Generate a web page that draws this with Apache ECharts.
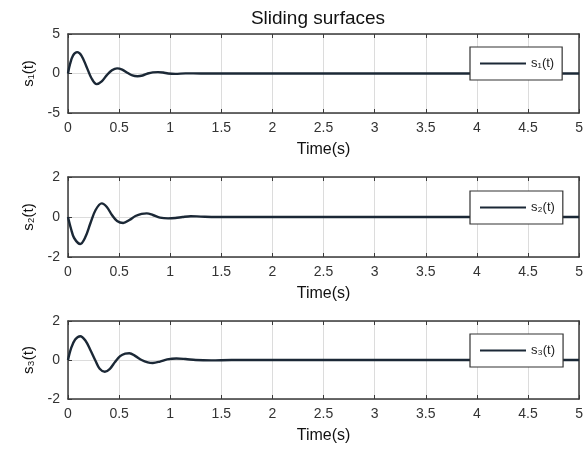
<!DOCTYPE html>
<html>
<head>
<meta charset="utf-8">
<script src="https://cdn.jsdelivr.net/npm/echarts@6/dist/echarts.min.js"></script>
<style>html,body{margin:0;padding:0;background:#fff}#c{width:586px;height:450px}</style>
</head>
<body>
<div id="c"></div>
<script>
// ---- data ----
const titleText = 'Sliding surfaces';
const xTicks = [0, 0.5, 1, 1.5, 2, 2.5, 3, 3.5, 4, 4.5, 5];
const seriesNames = ['s\u2081(t)', 's\u2082(t)', 's\u2083(t)'];

const t1 = [0, 0.02, 0.05, 0.09, 0.13, 0.18, 0.23, 0.28, 0.33, 0.38, 0.43, 0.48, 0.53, 0.58, 0.63, 0.68, 0.73, 0.78, 0.83, 0.88, 0.93, 0.98, 1.05, 1.15, 1.3, 1.5, 2, 3, 4, 5];
const s1  = [0, 1.2, 2.3, 2.7, 2.3, 0.9, -0.6, -1.35, -1.0, -0.2, 0.4, 0.65, 0.5, 0.1, -0.25, -0.35, -0.25, 0.0, 0.15, 0.18, 0.12, 0.0, -0.05, 0.02, 0, 0, 0, 0, 0, 0];

const t2 = [0, 0.03, 0.06, 0.12, 0.17, 0.22, 0.27, 0.33, 0.38, 0.43, 0.48, 0.54, 0.6, 0.66, 0.72, 0.77, 0.83, 0.9, 0.98, 1.05, 1.12, 1.2, 1.3, 1.45, 2, 3, 4, 5];
const s2  = [0, -0.6, -1.05, -1.35, -1.0, -0.3, 0.35, 0.68, 0.5, 0.1, -0.2, -0.3, -0.15, 0.05, 0.16, 0.18, 0.1, -0.03, -0.07, -0.05, 0.0, 0.04, 0.02, 0, 0, 0, 0, 0];

const t3 = [0, 0.03, 0.07, 0.12, 0.17, 0.22, 0.27, 0.31, 0.36, 0.41, 0.46, 0.51, 0.56, 0.6, 0.66, 0.72, 0.78, 0.83, 0.9, 0.97, 1.06, 1.15, 1.25, 1.4, 1.6, 2, 3, 4, 5];
const s3  = [0, 0.6, 1.05, 1.22, 1.0, 0.5, -0.05, -0.45, -0.6, -0.45, -0.1, 0.2, 0.33, 0.35, 0.2, 0.0, -0.12, -0.15, -0.08, 0.03, 0.08, 0.05, 0.0, -0.02, 0, 0, 0, 0, 0];

const yRanges = [[-5, 5, 5], [-2, 2, 2], [-2, 2, 2]];
const times = [t1, t2, t3];
const values = [s1, s2, s3];

// ---- layout ----
const grids = [
  {left: 68, right: 6, top: 34, height: 79},
  {left: 68, right: 6, top: 177, height: 80},
  {left: 68, right: 6, top: 321, height: 78}
];
const legendTops = [47, 191, 334];
const FONT = 'Liberation Sans, Arial, sans-serif';
const lineColor = '#1b2836';
const axisColor = '#3a3a3a';

const xAxes = [], yAxes = [], series = [], legends = [];
grids.forEach((g, i) => {
  xAxes.push({
    type: 'value', gridIndex: i, min: 0, max: 5, interval: 0.5,
    name: 'Time(s)', nameLocation: 'middle', nameGap: 29,
    nameTextStyle: {fontFamily: FONT, fontSize: 16, color: '#111'},
    axisLine: {show: true, onZero: false, lineStyle: {color: axisColor, width: 1.5}},
    axisTick: {show: true, inside: true, length: 4, lineStyle: {color: axisColor}},
    axisLabel: {fontFamily: FONT, fontSize: 14, color: '#333', margin: 8,
      formatter: v => String(Math.round(v * 10) / 10)},
    splitLine: {show: true, lineStyle: {color: '#dcdcdc', width: 1}}
  });
  xAxes.push({
    type: 'value', gridIndex: i, min: 0, max: 5, interval: 0.5, position: 'top',
    axisLine: {show: true, onZero: false, lineStyle: {color: axisColor, width: 1.5}},
    axisTick: {show: true, inside: true, length: 4, lineStyle: {color: axisColor}},
    axisLabel: {show: false}, splitLine: {show: false}
  });
  const r = yRanges[i];
  yAxes.push({
    type: 'value', gridIndex: i, min: r[0], max: r[1], interval: r[2],
    name: seriesNames[i], nameLocation: 'middle', nameGap: 32, nameRotate: 90,
    nameTextStyle: {fontFamily: FONT, fontSize: 15, color: '#111'},
    axisLine: {show: true, onZero: false, lineStyle: {color: axisColor, width: 1.5}},
    axisTick: {show: true, inside: true, length: 4, lineStyle: {color: axisColor}},
    axisLabel: {fontFamily: FONT, fontSize: 14, color: '#333', margin: 8},
    splitLine: {show: true, lineStyle: {color: '#dcdcdc', width: 1}}
  });
  yAxes.push({
    type: 'value', gridIndex: i, min: r[0], max: r[1], interval: r[2], position: 'right',
    axisLine: {show: true, onZero: false, lineStyle: {color: axisColor, width: 1.5}},
    axisTick: {show: false}, axisLabel: {show: false}, splitLine: {show: false}
  });
  series.push({
    name: seriesNames[i], type: 'line', xAxisIndex: 2 * i, yAxisIndex: 2 * i,
    data: times[i].map((t, k) => [t, values[i][k]]),
    smooth: 0.35, showSymbol: false, symbol: 'none',
    lineStyle: {color: lineColor, width: 2.4}, itemStyle: {color: lineColor},
    z: 3
  });
  legends.push({
    data: [seriesNames[i]], left: 470, top: legendTops[i],
    orient: 'horizontal',
    padding: [10, 8, 10, 10], itemWidth: 46, itemHeight: 13, itemGap: 4,
    backgroundColor: '#fff', borderColor: '#333', borderWidth: 1.2,
    textStyle: {fontFamily: FONT, fontSize: 13, color: '#222'},
    icon: 'path://M0,5.5 L46,5.5 L46,7.5 L0,7.5 Z',
    itemStyle: {color: lineColor}, z: 10
  });
});

const chart = echarts.init(document.getElementById('c'), null, {renderer: 'canvas'});
chart.setOption({
  animation: false,
  backgroundColor: '#fff',
  title: {text: titleText, left: 313, top: 4, textAlign: 'center',
    textStyle: {fontFamily: FONT, fontSize: 19, fontWeight: 'normal', color: '#111'}},
  grid: grids,
  xAxis: xAxes,
  yAxis: yAxes,
  legend: legends,
  series: series
});
</script>
</body>
</html>
